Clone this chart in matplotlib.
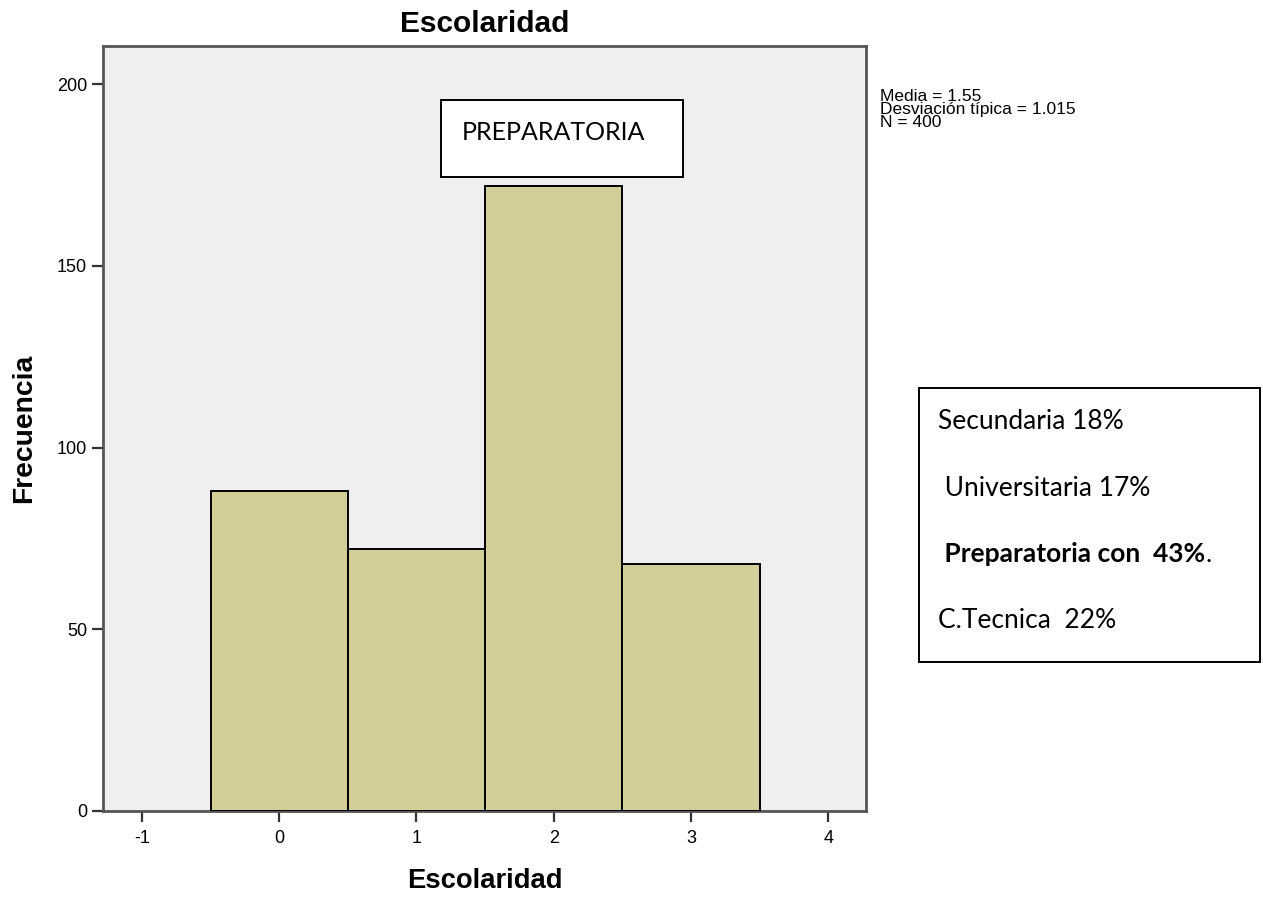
import matplotlib
matplotlib.use("Agg")
import matplotlib.pyplot as plt

# escolaridad levels and their frequencies (N = 400)
niveles = [0, 1, 2, 3]
frecuencias = [88, 72, 172, 68]
x_ticks = [-1, 0, 1, 2, 3, 4]
y_ticks = [0, 50, 100, 150, 200]
stats_lines = ["Media = 1.55", "Desviación típica = 1.015", "N = 400"]
resumen = [("Secundaria 18%", "normal"),
           (" Universitaria 17%", "normal"),
           (" Preparatoria con  43%", "bold"),
           ("C.Tecnica  22%", "normal")]

plt.rcParams['font.family'] = ['Liberation Sans', 'DejaVu Sans']
plt.rcParams['axes.unicode_minus'] = False

fig = plt.figure(figsize=(12.63, 8.97), dpi=100)
ax = fig.add_axes([0.0816, 0.0959, 0.6041, 0.8531])
ax.set_facecolor('#efefef')

ax.bar(niveles, frecuencias, width=1.0, color='#d3ce97',
       edgecolor='black', linewidth=1.4, zorder=3)

ax.set_xlim(-1.283, 4.276)
ax.set_ylim(0, 210.6)
ax.set_xticks(x_ticks)
ax.set_yticks(y_ticks)
ax.tick_params(axis='both', labelsize=13, length=8, width=1.6,
               color='#333333', direction='out')
ax.tick_params(axis='x', pad=6)
for s in ax.spines.values():
    s.set_color('#555555')
    s.set_linewidth(2.0)

ax.set_title('Escolaridad', fontsize=21.5, fontweight='bold', pad=10)
ax.set_xlabel('Escolaridad', fontsize=19.7, fontweight='bold', labelpad=15)
ax.set_ylabel('Frecuencia', fontsize=20.3, fontweight='bold', labelpad=14)

# SPSS statistics block
fig.text(880 / 1263, 1 - 89 / 897, "\n".join(stats_lines), fontsize=12.5,
         va='top', ha='left', linespacing=0.84)

# annotation box over the tallest bar
fig.patches.append(plt.Rectangle((441 / 1263, 1 - 177 / 897), 242 / 1263, 77 / 897,
                                 transform=fig.transFigure, facecolor='white',
                                 edgecolor='black', linewidth=1.4, zorder=5))
fig.text(462 / 1263, 1 - 132 / 897, "PREPARATORIA", fontsize=18,
         family=['Lato', 'DejaVu Sans'], va='center', ha='left', zorder=6)

# summary box on the right
fig.patches.append(plt.Rectangle((919 / 1263, 1 - 662 / 897), 341 / 1263, 274 / 897,
                                 transform=fig.transFigure, facecolor='white',
                                 edgecolor='black', linewidth=1.4))
y_pos = [421, 488, 554, 620]
for (txt, w), yy in zip(resumen, y_pos):
    t = fig.text(938 / 1263, 1 - yy / 897, txt, fontsize=19, fontweight=w,
                 family=['Lato', 'DejaVu Sans'], va='center', ha='left')
    if w == 'bold':
        t2 = fig.text(0, 0, '.', fontsize=19, family=['Lato', 'DejaVu Sans'])
        fig.canvas.draw()
        bb = t.get_window_extent()
        t2.set_position((bb.x1 / 1263, 1 - yy / 897))
        t2.set_va('center')

fig.savefig('out.png', dpi=100)
